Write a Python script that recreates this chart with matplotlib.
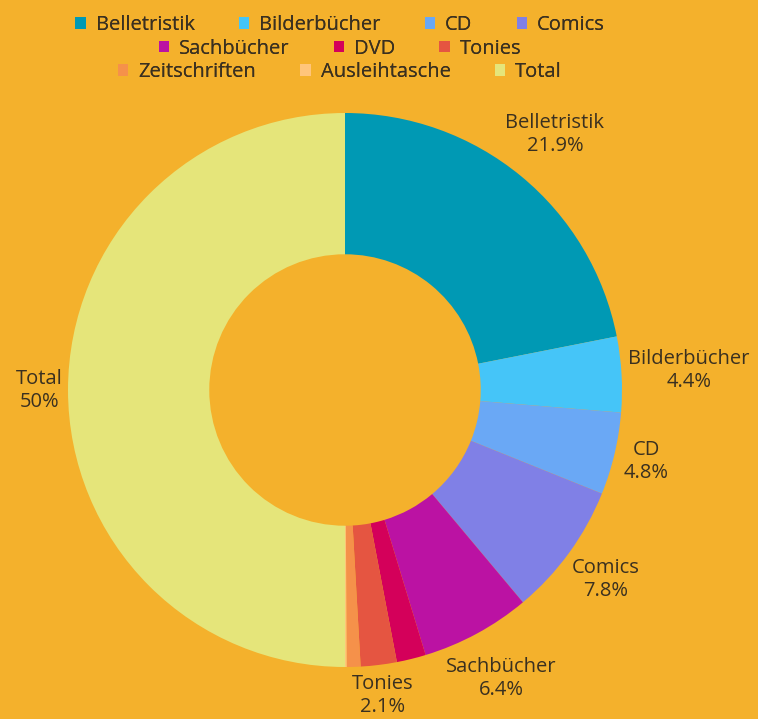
import matplotlib.pyplot as plt
from matplotlib.patches import Patch
import numpy as np

plt.rcParams['font.family'] = ['Open Sans', 'DejaVu Sans']

# Data
categories = ['Belletristik', 'Bilderbücher', 'CD', 'Comics', 'Sachbücher',
              'DVD', 'Tonies', 'Zeitschriften', 'Ausleihtasche', 'Total']
shares = [21.9, 4.4, 4.8, 7.8, 6.4, 1.7, 2.1, 0.8, 0.1, 50]
colors = ['#0099b4', '#45c5f8', '#6aa8f5', '#8080e6', '#bb12a3',
          '#d4005a', '#e55541', '#f5914a', '#ffc57a', '#e5e57a']
legend_rows = [4, 3, 3]

bg = '#f4b12c'
text_col = '#3a3020'
W, H = 758, 719
cx, cy = 345, 390
R = 277
fs = 14.5

fig = plt.figure(figsize=(W / 100, H / 100), dpi=100, facecolor=bg)
ax = fig.add_axes([0, 0, 1, 1])
ax.set_facecolor(bg)

wedges, _ = ax.pie(shares, colors=colors, radius=R, startangle=90,
                   counterclock=False, wedgeprops=dict(width=R * 0.51, linewidth=0),
                   frame=True)
ax.set_xlim(-cx, W - cx)
ax.set_ylim(-(H - cy), cy)
ax.set_aspect('equal')
ax.axis('off')

# Labels outside the ring, only for larger slices
fig.canvas.draw()
renderer = fig.canvas.get_renderer()
total = sum(shares)
start = 0.0
for name, v in zip(categories, shares):
    mid = (start + v / 2) / total * 2 * np.pi
    start += v
    if v < 2:
        continue
    dx, dy = np.sin(mid), np.cos(mid)
    t = ax.text(0, 0, f"{name}\n{v:g}%", ha='center', va='center',
                fontsize=fs, color=text_col, linespacing=1.2)
    bb = t.get_window_extent(renderer)
    off = abs(dx) * bb.width / 2 + abs(dy) * bb.height / 2
    r = R * 1.02 + off
    t.set_position((r * dx, r * dy))

# Legend, three centered rows
handles = [Patch(facecolor=c, edgecolor='none') for c in colors]
idx = 0
row_y = [719 - 5, 719 - 28.5, 719 - 52]
for n, y in zip(legend_rows, row_y):
    leg = fig.legend(handles[idx:idx + n], categories[idx:idx + n],
                     loc='upper center', bbox_to_anchor=(340 / W, y / H),
                     ncol=n, frameon=False, fontsize=fs, handlelength=0.5,
                     handleheight=0.5, handletextpad=0.5, columnspacing=2.2,
                     borderpad=0, labelcolor=text_col)
    fig.add_artist(leg)
    idx += n

fig.savefig('out.png', dpi=100, facecolor=bg)
